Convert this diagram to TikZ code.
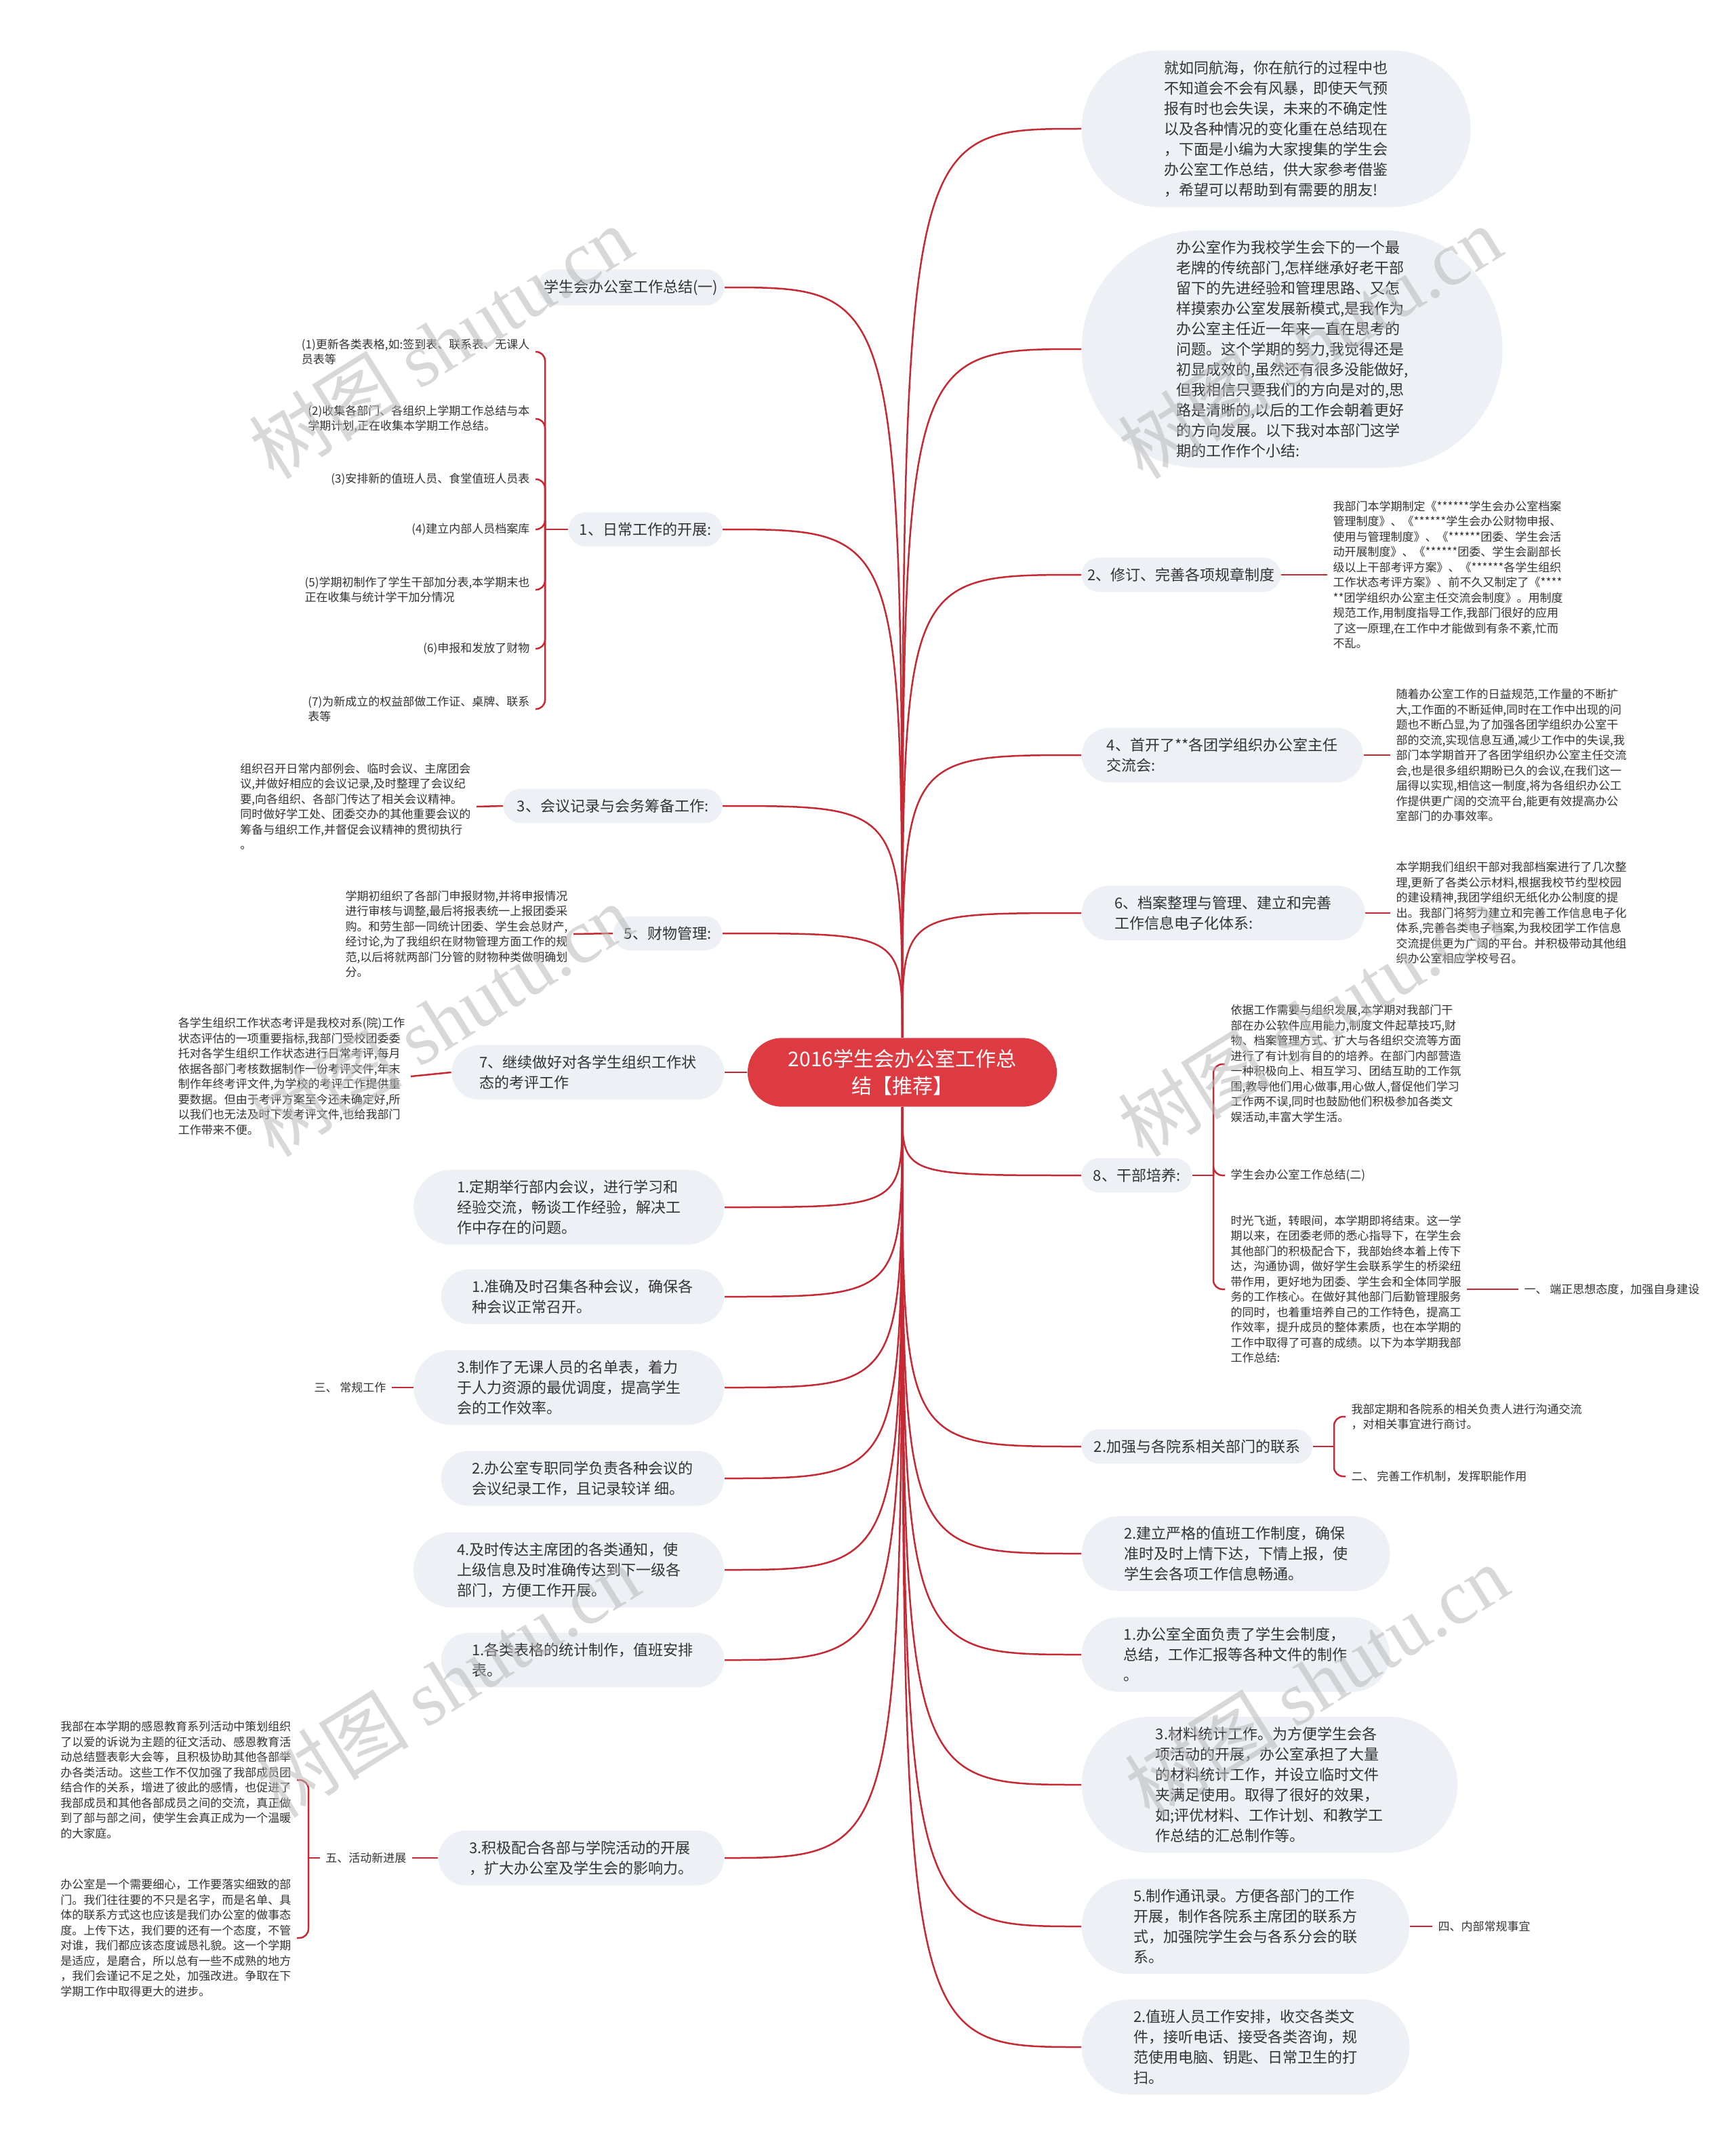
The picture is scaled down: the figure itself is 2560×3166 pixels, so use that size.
\documentclass[tikz,border=0pt]{standalone}
\usepackage{fontspec}
\setmainfont{Noto Sans CJK SC}
\newfontfamily\wmserif{Liberation Serif}
\usetikzlibrary{shapes.misc,positioning}
\definecolor{linkred}{RGB}{198,40,52}
\definecolor{rootred}{RGB}{221,58,66}
\definecolor{bubfill}{RGB}{237,240,244}
\definecolor{txt}{RGB}{51,51,51}
\definecolor{wmgray}{RGB}{185,185,185}
\tikzset{
  link/.style={draw=linkred, line width=0.75pt},
  brace/.style={link, rounded corners=4pt},
  rootbox/.style={rounded rectangle, fill=rootred, text=white, align=center,
    font=\fontsize{9}{12}\selectfont, inner xsep=14pt, inner ysep=5pt},
  bub/.style={rounded rectangle, fill=bubfill, text=txt, align=left,
    font=\fontsize{6.6}{9}\selectfont, inner xsep=#1, inner ysep=4.5pt},
  bub/.default=2pt,
  leaf/.style={text=txt, align=left, font=\fontsize{5.1}{6.75}\selectfont,
    inner xsep=2.4pt, inner ysep=0pt},
  wmark/.style={text=wmgray, opacity=0.55, font=\fontsize{34}{34}\selectfont,
    inner sep=0pt, rotate=32}
}
\begin{document}
\begin{tikzpicture}[x=0.3pt, y=-0.3pt]
\useasboundingbox[fill=white] (0,0) rectangle (2560,3166);

% 中心
\node[rootbox] (root) at (1331,1582) {2016学生会办公室工作总\\结【推荐】};

% 右侧
\node[bub=19pt, anchor=west] (r1) at (1595,190) {就如同航海，你在航行的过程中也\\不知道会不会有风暴，即使天气预\\报有时也会失误，未来的不确定性\\以及各种情况的变化重在总结现在\\，下面是小编为大家搜集的学生会\\办公室工作总结，供大家参考借鉴\\，希望可以帮助到有需要的朋友!};
\node[bub=10.5pt, anchor=west] (r2) at (1595,515) {办公室作为我校学生会下的一个最\\老牌的传统部门,怎样继承好老干部\\留下的先进经验和管理思路、又怎\\样摸索办公室发展新模式,是我作为\\办公室主任近一年来一直在思考的\\问题。这个学期的努力,我觉得还是\\初显成效的,虽然还有很多没能做好,\\但我相信只要我们的方向是对的,思\\路是清晰的,以后的工作会朝着更好\\的方向发展。以下我对本部门这学\\期的工作作个小结:};
\node[bub, anchor=west] (r3) at (1595,848) {2、修订、完善各项规章制度};
\node[bub=8.5pt, anchor=west] (r4) at (1595,1114) {4、首开了**各团学组织办公室主任\\交流会:};
\node[bub=12pt, anchor=west] (r5) at (1595,1347) {6、档案整理与管理、建立和完善\\工作信息电子化体系:};
\node[bub=4.5pt, anchor=west] (r6) at (1595,1734) {8、干部培养:};
\node[bub=4.8pt, anchor=west] (r7) at (1595,2134) {2.加强与各院系相关部门的联系};
\node[bub=13.5pt, anchor=west] (r8) at (1595,2292) {2.建立严格的值班工作制度，确保\\准时及时上情下达，下情上报，使\\学生会各项工作信息畅通。};
\node[bub=13.5pt, anchor=west] (r9) at (1595,2441) {1.办公室全面负责了学生会制度，\\总结，工作汇报等各种文件的制作\\。};
\node[bub=18.5pt, anchor=west] (r10) at (1595,2633) {3.材料统计工作。为方便学生会各\\项活动的开展，办公室承担了大量\\的材料统计工作，并设立临时文件\\夹满足使用。取得了很好的效果，\\如;评优材料、工作计划、和教学工\\作总结的汇总制作等。};
\node[bub=15pt, anchor=west] (r11) at (1595,2842) {5.制作通讯录。方便各部门的工作\\开展，制作各院系主席团的联系方\\式，加强院学生会与各系分会的联\\系。};
\node[bub=15pt, anchor=west] (r12) at (1595,3020) {2.值班人员工作安排，收交各类文\\件，接听电话、接受各类咨询，规\\范使用电脑、钥匙、日常卫生的打\\扫。};

% 右侧子项
\node[leaf, anchor=west] (r3x) at (1958,848) {我部门本学期制定《******学生会办公室档案\\管理制度》、《******学生会办公财物申报、\\使用与管理制度》、《******团委、学生会活\\动开展制度》、《******团委、学生会副部长\\级以上干部考评方案》、《******各学生组织\\工作状态考评方案》、前不久又制定了《****\\**团学组织办公室主任交流会制度》。用制度\\规范工作,用制度指导工作,我部门很好的应用\\了这一原理,在工作中才能做到有条不紊,忙而\\不乱。};
\node[leaf, anchor=west] (r4x) at (2051,1114) {随着办公室工作的日益规范,工作量的不断扩\\大,工作面的不断延伸,同时在工作中出现的问\\题也不断凸显,为了加强各团学组织办公室干\\部的交流,实现信息互通,减少工作中的失误,我\\部门本学期首开了各团学组织办公室主任交流\\会,也是很多组织期盼已久的会议,在我们这一\\届得以实现,相信这一制度,将为各组织办公工\\作提供更广阔的交流平台,能更有效提高办公\\室部门的办事效率。};
\node[leaf, anchor=west] (r5x) at (2051,1347) {本学期我们组织干部对我部档案进行了几次整\\理,更新了各类公示材料,根据我校节约型校园\\的建设精神,我团学组织无纸化办公制度的提\\出。我部门将努力建立和完善工作信息电子化\\体系,完善各类电子档案,为我校团学工作信息\\交流提供更为广阔的平台。并积极带动其他组\\织办公室相应学校号召。};
\node[leaf, anchor=west] (r6a) at (1807,1570) {依据工作需要与组织发展,本学期对我部门干\\部在办公软件应用能力,制度文件起草技巧,财\\物、档案管理方式、扩大与各组织交流等方面\\进行了有计划有目的的培养。在部门内部营造\\一种积极向上、相互学习、团结互助的工作氛\\围,教导他们用心做事,用心做人,督促他们学习\\工作两不误,同时也鼓励他们积极参加各类文\\娱活动,丰富大学生活。};
\node[leaf, anchor=west] (r6b) at (1807,1734) {学生会办公室工作总结(二)};
\node[leaf, anchor=west] (r6c) at (1807,1902) {时光飞逝，转眼间，本学期即将结束。这一学\\期以来，在团委老师的悉心指导下，在学生会\\其他部门的积极配合下，我部始终本着上传下\\达，沟通协调，做好学生会联系学生的桥梁纽\\带作用，更好地为团委、学生会和全体同学服\\务的工作核心。在做好其他部门后勤管理服务\\的同时，也着重培养自己的工作特色，提高工\\作效率，提升成员的整体素质，也在本学期的\\工作中取得了可喜的成绩。以下为本学期我部\\工作总结:};
\node[leaf, anchor=west] (r6d) at (2240,1902) {一、 端正思想态度，加强自身建设};
\node[leaf, anchor=west] (r7a) at (1985,2090) {我部定期和各院系的相关负责人进行沟通交流\\，对相关事宜进行商讨。};
\node[leaf, anchor=west] (r7b) at (1985,2178) {二、 完善工作机制，发挥职能作用};
\node[leaf, anchor=west] (r11x) at (2113,2842) {四、内部常规事宜};

% 左侧
\node[bub, anchor=east] (l1) at (1069,424) {学生会办公室工作总结(一)};
\node[bub=4.2pt, anchor=east] (l2) at (1066,781) {1、日常工作的开展:};
\node[bub=5.4pt, anchor=east] (l3) at (1066,1189) {3、会议记录与会务筹备工作:};
\node[bub=4.2pt, anchor=east] (l4) at (1066,1377) {5、财物管理:};
\node[bub=9.6pt, anchor=east] (l5) at (1069,1582) {7、继续做好对各学生组织工作状\\态的考评工作};
\node[bub=14pt, anchor=east] (l6) at (1069,1781) {1.定期举行部内会议，进行学习和\\经验交流，畅谈工作经验，解决工\\作中存在的问题。};
\node[bub=11pt, anchor=east] (l7) at (1069,1913) {1.准确及时召集各种会议，确保各\\种会议正常召开。};
\node[bub=14pt, anchor=east] (l8) at (1069,2047) {3.制作了无课人员的名单表，着力\\于人力资源的最优调度，提高学生\\会的工作效率。};
\node[bub=11pt, anchor=east] (l9) at (1069,2181) {2.办公室专职同学负责各种会议的\\会议纪录工作，且记录较详 细。};
\node[bub=14pt, anchor=east] (l10) at (1069,2316) {4.及时传达主席团的各类通知，使\\上级信息及时准确传达到下一级各\\部门，方便工作开展。};
\node[bub=11pt, anchor=east] (l11) at (1069,2449) {1.各类表格的统计制作，值班安排\\表。};
\node[bub=11pt, anchor=east] (l12) at (1069,2741) {3.积极配合各部与学院活动的开展\\，扩大办公室及学生会的影响力。};

% 左侧子项
\node[leaf, anchor=east] (l2a) at (790,519) {(1)更新各类表格,如:签到表、联系表、无课人\\员表等};
\node[leaf, anchor=east] (l2b) at (790,618) {(2)收集各部门、各组织上学期工作总结与本\\学期计划,正在收集本学期工作总结。};
\node[leaf, anchor=east] (l2c) at (790,707) {(3)安排新的值班人员、食堂值班人员表};
\node[leaf, anchor=east] (l2d) at (790,781) {(4)建立内部人员档案库};
\node[leaf, anchor=east] (l2e) at (790,870) {(5)学期初制作了学生干部加分表,本学期末也\\正在收集与统计学干加分情况};
\node[leaf, anchor=east] (l2f) at (790,957) {(6)申报和发放了财物};
\node[leaf, anchor=east] (l2g) at (790,1046) {(7)为新成立的权益部做工作证、桌牌、联系\\表等};
\node[leaf, anchor=east] (l3x) at (703,1190) {组织召开日常内部例会、临时会议、主席团会\\议,并做好相应的会议记录,及时整理了会议纪\\要,向各组织、各部门传达了相关会议精神。\\同时做好学工处、团委交办的其他重要会议的\\筹备与组织工作,并督促会议精神的贯彻执行\\。};
\node[leaf, anchor=east] (l4x) at (846,1378) {学期初组织了各部门申报财物,并将申报情况\\进行审核与调整,最后将报表统一上报团委采\\购。和劳生部一同统计团委、学生会总财产,\\经讨论,为了我组织在财物管理方面工作的规\\范,以后将就两部门分管的财物种类做明确划\\分。};
\node[leaf, anchor=east] (l5x) at (606,1588) {各学生组织工作状态考评是我校对系(院)工作\\状态评估的一项重要指标,我部门受校团委委\\托对各学生组织工作状态进行日常考评,每月\\依据各部门考核数据制作一份考评文件,年末\\制作年终考评文件,为学校的考评工作提供重\\要数据。但由于考评方案至今还未确定好,所\\以我们也无法及时下发考评文件,也给我部门\\工作带来不便。};
\node[leaf, anchor=east] (l8x) at (578,2047) {三、 常规工作};
\node[leaf, anchor=east] (l12x) at (608,2741) {五、活动新进展};
\node[leaf, anchor=east] (l12a) at (438,2626) {我部在本学期的感恩教育系列活动中策划组织\\了以爱的诉说为主题的征文活动、感恩教育活\\动总结暨表彰大会等，且积极协助其他各部举\\办各类活动。这些工作不仅加强了我部成员团\\结合作的关系，增进了彼此的感情，也促进了\\我部成员和其他各部成员之间的交流，真正做\\到了部与部之间，使学生会真正成为一个温暖\\的大家庭。};
\node[leaf, anchor=east] (l12b) at (438,2859) {办公室是一个需要细心，工作要落实细致的部\\门。我们往往要的不只是名字，而是名单、具\\体的联系方式这也应该是我们办公室的做事态\\度。上传下达，我们要的还有一个态度，不管\\对谁，我们都应该态度诚恳礼貌。这一个学期\\是适应，是磨合，所以总有一些不成熟的地方\\，我们会谨记不足之处，加强改进。争取在下\\学期工作中取得更大的进步。};

% 中心连线
\foreach \n in {r1,r2,r3,r4,r5}
  \draw[link] (root.north) .. controls (root.north |- \n.west) .. (\n.west);
\foreach \n in {r6,r7,r8,r9,r10,r11,r12}
  \draw[link] (root.south) .. controls (root.south |- \n.west) .. (\n.west);
\foreach \n in {l1,l2,l3,l4}
  \draw[link] (root.north) .. controls (root.north |- \n.east) .. (\n.east);
\draw[link] (root.west) -- (l5.east);
\foreach \n in {l6,l7,l8,l9,l10,l11,l12}
  \draw[link] (root.south) .. controls (root.south |- \n.east) .. (\n.east);

% 子项连线
\draw[link] (r3.east) -- (r3x.west);
\draw[link] (r4.east) -- (r4x.west);
\draw[link] (r5.east) -- (r5x.west);
\draw[link] (r6.east) -- (1790,1734) coordinate (j6);
\foreach \c in {a,b,c} \draw[brace] (j6) |- (r6\c.west);
\draw[link] (r6c.east) -- (r6d.west);
\draw[link] (r7.east) -- (1968,2134) coordinate (j7);
\foreach \c in {a,b} \draw[brace] (j7) |- (r7\c.west);
\draw[link] (r11.east) -- (r11x.west);
\draw[link] (l2.west) -- (804,781) coordinate (j2);
\foreach \c in {a,b,c,d,e,f,g} \draw[brace] (j2) |- (l2\c.east);
\draw[link] (l3.west) -- (l3x.east);
\draw[link] (l4.west) -- (l4x.east);
\draw[link] (l5.west) -- (l5x.east);
\draw[link] (l8.west) -- (l8x.east);
\draw[link] (l12.west) -- (l12x.east);
\draw[link] (l12x.west) -- (455,2741) coordinate (j12);
\foreach \c in {a,b} \draw[brace] (j12) |- (l12\c.east);

% 水印
\foreach \wx/\wy in {650/505, 1932/505, 650/1505, 1932/1505, 660/2480, 1942/2480}
  \node[wmark] at (\wx,\wy) {树图 {\wmserif shutu.cn}};
\end{tikzpicture}
\end{document}
